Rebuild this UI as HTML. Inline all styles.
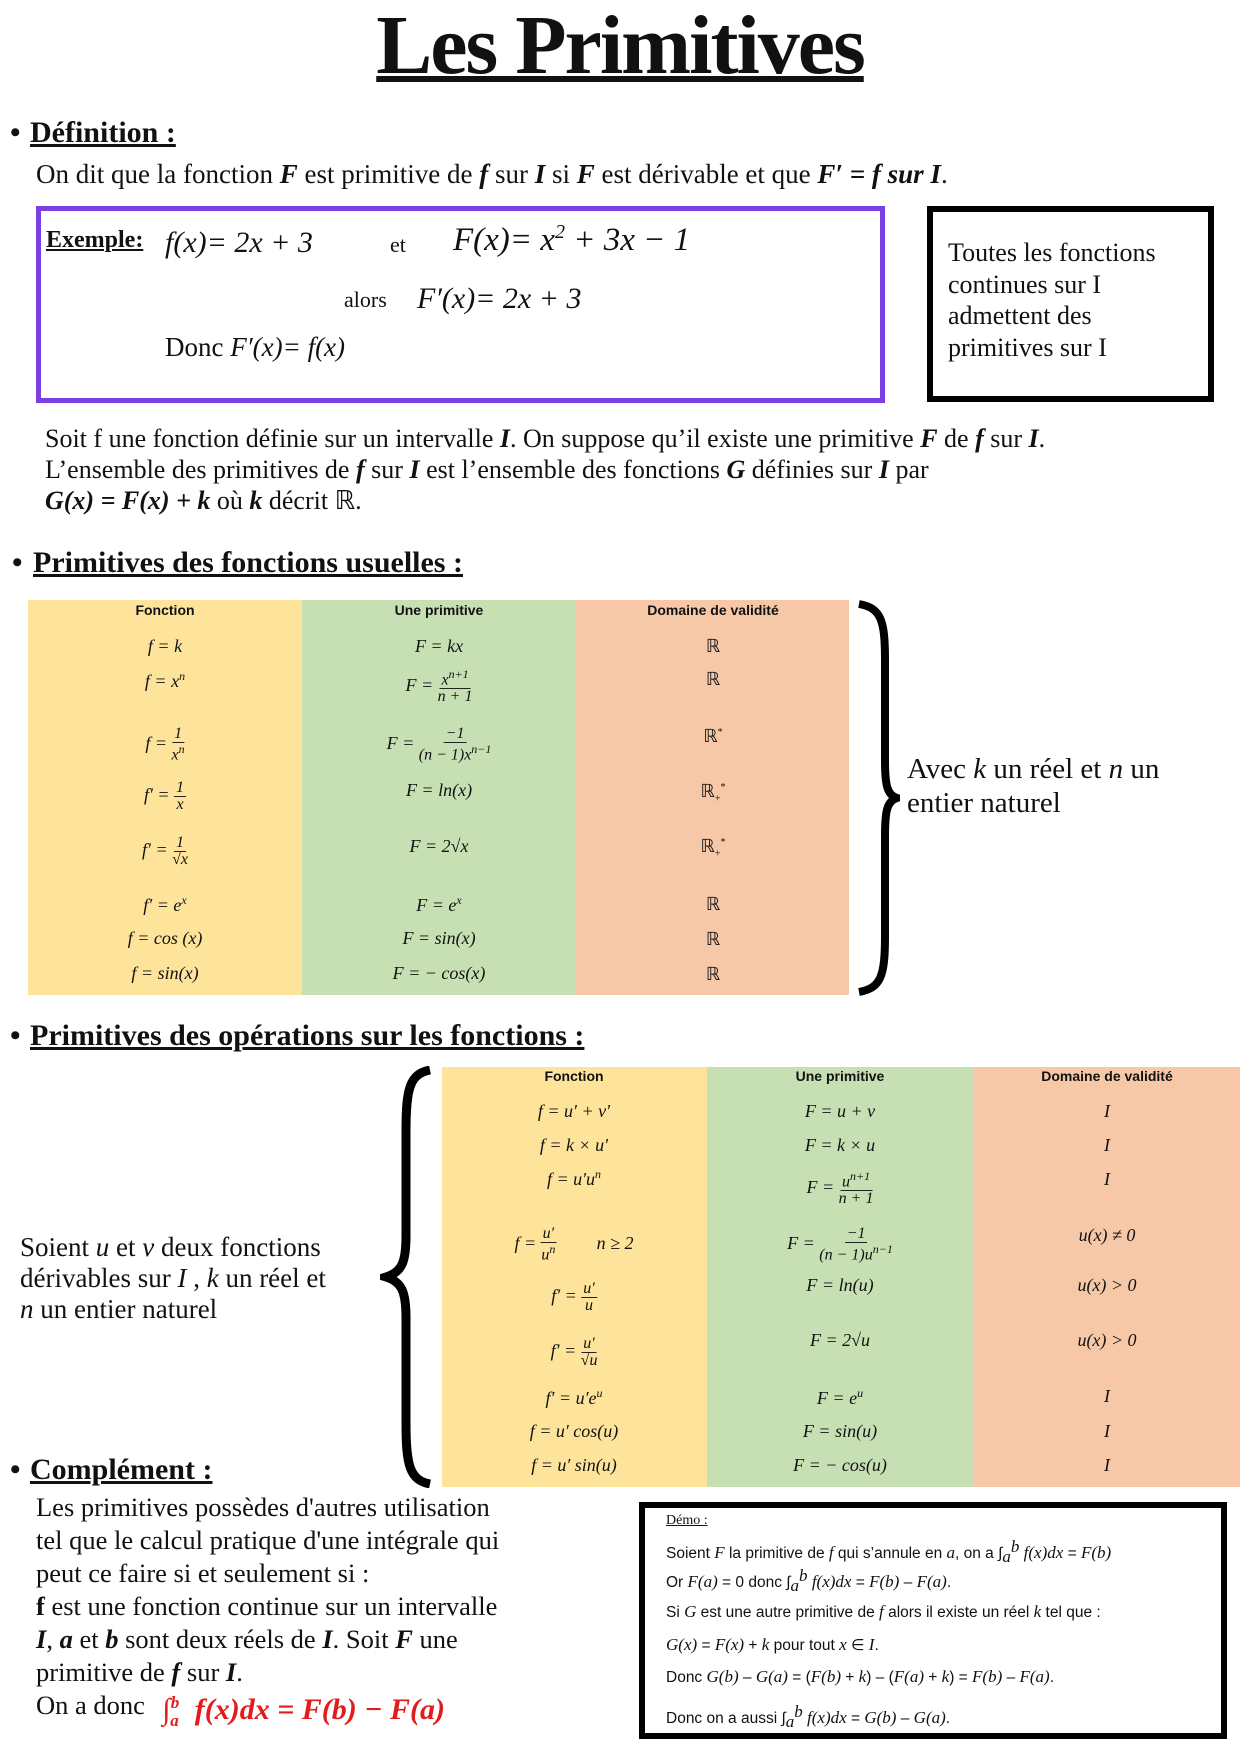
<!DOCTYPE html>
<html><head><meta charset="utf-8">
<style>
*{margin:0;padding:0;box-sizing:border-box}
body{width:1240px;height:1754px;position:relative;background:#fff;font-family:"Liberation Serif",serif;color:#111;overflow:hidden}
.t{position:absolute;white-space:nowrap;line-height:1}
.m{font-style:italic}
.h{font-weight:bold;text-decoration:underline;font-size:30px}
.box{position:absolute}
.c{position:absolute;text-align:center;white-space:nowrap;line-height:1;font-size:18px;transform:translateX(-50%)}
.fr{display:inline-flex;flex-direction:column;align-items:center;vertical-align:middle;font-size:16px}
.fr span:first-child{border-bottom:1px solid #222;padding:0 2px}
.th{font-family:"Liberation Sans",sans-serif;font-weight:bold;font-size:14px;font-style:normal}
.d{position:absolute;white-space:nowrap;font-family:"Liberation Sans",sans-serif;font-size:15.5px;line-height:1}
.d i{font-family:"Liberation Serif",serif;font-size:17px}
</style></head><body>

<div class="t" style="left:0;width:1240px;text-align:center;top:4px;font-size:84px;font-weight:bold;letter-spacing:-2px"><span style="text-decoration:underline;text-decoration-thickness:6px">Les Primitives</span></div>

<div class="t" style="left:10px;top:118px;font-size:30px;font-weight:bold">•</div>
<div class="t h" style="left:30px;top:118px">Définition :</div>
<div class="t" style="left:36px;top:161px;font-size:27px">On dit que la fonction <b><i>F</i></b> est primitive de <b><i>f</i></b> sur <b><i>I</i></b> si <b><i>F</i></b> est dérivable et que <b><i>F′ = f sur I</i></b>.</div>

<div class="box" style="left:36px;top:206px;width:849px;height:197px;border:5px solid #7b3fe4"></div>
<div class="t" style="left:46px;top:228px;font-size:24px;font-weight:bold;text-decoration:underline">Exemple:</div>
<div class="t m" style="left:165px;top:228px;font-size:30px">f(x)= 2x + 3</div>
<div class="t" style="left:390px;top:234px;font-size:22px">et</div>
<div class="t m" style="left:453px;top:222px;font-size:33px">F(x)= x<sup style="font-size:20px">2</sup> + 3x − 1</div>
<div class="t" style="left:344px;top:289px;font-size:22px">alors</div>
<div class="t m" style="left:417px;top:284px;font-size:30px">F′(x)= 2x + 3</div>
<div class="t" style="left:165px;top:334px;font-size:27px">Donc <i>F′(x)= f(x)</i></div>

<div class="box" style="left:927px;top:206px;width:287px;height:196px;border:6px solid #000"></div>
<div class="t" style="left:948px;top:237px;font-size:26px;line-height:31.5px;white-space:normal;width:235px">Toutes les fonctions continues sur I admettent des primitives sur I</div>

<div class="t" style="left:45px;top:423px;font-size:26px;line-height:31px">Soit f une fonction définie sur un intervalle <b><i>I</i></b>. On suppose qu’il existe une primitive <b><i>F</i></b> de <b><i>f</i></b> sur <b><i>I</i></b>.<br>L’ensemble des primitives de <b><i>f</i></b> sur <b><i>I</i></b> est l’ensemble des fonctions <b><i>G</i></b> définies sur <b><i>I</i></b> par<br><b><i>G(x) = F(x) + k</i></b> où <b><i>k</i></b> décrit ℝ.</div>

<div class="t" style="left:12px;top:548px;font-size:30px;font-weight:bold">•</div>
<div class="t h" style="left:33px;top:548px">Primitives des fonctions usuelles :</div>

<div class="box" style="left:28px;top:600px;width:274px;height:395px;background:#fee39b"></div>
<div class="box" style="left:302px;top:600px;width:274px;height:395px;background:#c6e0b4"></div>
<div class="box" style="left:576px;top:600px;width:273px;height:395px;background:#f6c8a8"></div>

<div class="c th" style="left:165px;top:603px">Fonction</div>
<div class="c th" style="left:439px;top:603px">Une primitive</div>
<div class="c th" style="left:713px;top:603px">Domaine de validité</div>

<div class="c m" style="left:165px;top:637px">f = k</div>
<div class="c m" style="left:439px;top:637px">F = kx</div>
<div class="c" style="left:713px;top:637px">ℝ</div>

<div class="c m" style="left:165px;top:670px">f = x<sup style="font-size:12px">n</sup></div>
<div class="c m" style="left:439px;top:668px">F = <span class="fr"><span>x<sup style="font-size:12px">n+1</sup></span><span>n + 1</span></span></div>
<div class="c" style="left:713px;top:670px">ℝ</div>

<div class="c m" style="left:165px;top:726px">f = <span class="fr"><span>1</span><span>x<sup style="font-size:12px">n</sup></span></span></div>
<div class="c m" style="left:439px;top:726px">F = <span class="fr"><span>−1</span><span>(n − 1)x<sup style="font-size:12px">n−1</sup></span></span></div>
<div class="c" style="left:713px;top:727px">ℝ<sup style="font-size:10px">*</sup></div>

<div class="c m" style="left:165px;top:780px">f′ = <span class="fr"><span>1</span><span>x</span></span></div>
<div class="c m" style="left:439px;top:781px">F = ln(x)</div>
<div class="c" style="left:713px;top:782px">ℝ<sub style="font-size:10px">+</sub><sup style="font-size:10px">*</sup></div>

<div class="c m" style="left:165px;top:835px">f′ = <span class="fr"><span>1</span><span>√x</span></span></div>
<div class="c m" style="left:439px;top:837px">F = 2√x</div>
<div class="c" style="left:713px;top:837px">ℝ<sub style="font-size:10px">+</sub><sup style="font-size:10px">*</sup></div>

<div class="c m" style="left:165px;top:894px">f′ = e<sup style="font-size:12px">x</sup></div>
<div class="c m" style="left:439px;top:894px">F = e<sup style="font-size:12px">x</sup></div>
<div class="c" style="left:713px;top:895px">ℝ</div>
<div class="c m" style="left:165px;top:929px">f = cos (x)</div>
<div class="c m" style="left:439px;top:929px">F = sin(x)</div>
<div class="c" style="left:713px;top:930px">ℝ</div>
<div class="c m" style="left:165px;top:964px">f = sin(x)</div>
<div class="c m" style="left:439px;top:964px">F = − cos(x)</div>
<div class="c" style="left:713px;top:965px">ℝ</div>

<svg class="box" style="left:855px;top:600px" width="45" height="396" viewBox="0 0 45 396"><path d="M4 4 C26 8 30 20 30 60 L30 160 C30 185 32 195 42 198 C32 201 30 211 30 236 L30 336 C30 376 26 388 4 392" fill="none" stroke="#000" stroke-width="8"/></svg>
<div class="t" style="left:907px;top:752px;font-size:29px;line-height:34px">Avec <i>k</i> un réel et <i>n</i> un<br>entier naturel</div>

<div class="t" style="left:10px;top:1021px;font-size:30px;font-weight:bold">•</div>
<div class="t h" style="left:30px;top:1021px">Primitives des opérations sur les fonctions :</div>

<div class="box" style="left:442px;top:1067px;width:265px;height:420px;background:#fee39b"></div>
<div class="box" style="left:707px;top:1067px;width:267px;height:420px;background:#c6e0b4"></div>
<div class="box" style="left:974px;top:1067px;width:266px;height:420px;background:#f6c8a8"></div>

<div class="c th" style="left:574px;top:1069px">Fonction</div>
<div class="c th" style="left:840px;top:1069px">Une primitive</div>
<div class="c th" style="left:1107px;top:1069px">Domaine de validité</div>

<div class="c m" style="left:574px;top:1102px">f = u′ + v′</div>
<div class="c m" style="left:840px;top:1102px">F = u + v</div>
<div class="c m" style="left:1107px;top:1102px">I</div>
<div class="c m" style="left:574px;top:1136px">f = k × u′</div>
<div class="c m" style="left:840px;top:1136px">F = k × u</div>
<div class="c m" style="left:1107px;top:1136px">I</div>
<div class="c m" style="left:574px;top:1168px">f = u′u<sup style="font-size:12px">n</sup></div>
<div class="c m" style="left:840px;top:1170px">F = <span class="fr"><span>u<sup style="font-size:12px">n+1</sup></span><span>n + 1</span></span></div>
<div class="c m" style="left:1107px;top:1170px">I</div>
<div class="c m" style="left:574px;top:1226px">f = <span class="fr"><span>u′</span><span>u<sup style="font-size:12px">n</sup></span></span> &nbsp; &nbsp; &nbsp; &nbsp; n ≥ 2</div>
<div class="c m" style="left:840px;top:1226px">F = <span class="fr"><span>−1</span><span>(n − 1)u<sup style="font-size:12px">n−1</sup></span></span></div>
<div class="c m" style="left:1107px;top:1226px">u(x) ≠ 0</div>
<div class="c m" style="left:574px;top:1281px">f′ = <span class="fr"><span>u′</span><span>u</span></span></div>
<div class="c m" style="left:840px;top:1276px">F = ln(u)</div>
<div class="c m" style="left:1107px;top:1276px">u(x) &gt; 0</div>
<div class="c m" style="left:574px;top:1336px">f′ = <span class="fr"><span>u′</span><span>√u</span></span></div>
<div class="c m" style="left:840px;top:1331px">F = 2√u</div>
<div class="c m" style="left:1107px;top:1331px">u(x) &gt; 0</div>
<div class="c m" style="left:574px;top:1387px">f′ = u′e<sup style="font-size:12px">u</sup></div>
<div class="c m" style="left:840px;top:1387px">F = e<sup style="font-size:12px">u</sup></div>
<div class="c m" style="left:1107px;top:1387px">I</div>
<div class="c m" style="left:574px;top:1422px">f = u′ cos(u)</div>
<div class="c m" style="left:840px;top:1422px">F = sin(u)</div>
<div class="c m" style="left:1107px;top:1422px">I</div>
<div class="c m" style="left:574px;top:1456px">f = u′ sin(u)</div>
<div class="c m" style="left:840px;top:1456px">F = − cos(u)</div>
<div class="c m" style="left:1107px;top:1456px">I</div>

<svg class="box" style="left:380px;top:1066px" width="55" height="422" viewBox="0 0 55 422"><path d="M50 4 C30 8 26 22 26 64 L26 170 C26 196 22 206 6 211 C22 216 26 226 26 252 L26 358 C26 400 30 414 50 418" fill="none" stroke="#000" stroke-width="9"/></svg>

<div class="t" style="left:20px;top:1232px;font-size:27px;line-height:31px">Soient <i>u</i> et <i>v</i> deux fonctions<br>dérivables sur <i>I</i> , <i>k</i> un réel et<br><i>n</i> un entier naturel</div>

<div class="t" style="left:10px;top:1455px;font-size:30px;font-weight:bold">•</div>
<div class="t h" style="left:30px;top:1455px">Complément :</div>
<div class="t" style="left:36px;top:1491px;font-size:26.5px;line-height:33px">Les primitives possèdes d'autres utilisation<br>tel que le calcul pratique d'une intégrale qui<br>peut ce faire si et seulement si :<br><b>f</b> est une fonction continue sur un intervalle<br><b><i>I</i></b>, <b><i>a</i></b> et <b><i>b</i></b> sont deux réels de <b><i>I</i></b>. Soit <b><i>F</i></b> une<br>primitive de <b><i>f</i></b> sur <b><i>I</i></b>.<br>On a donc</div>
<div class="t" style="left:162px;top:1694px;font-size:30px;color:#e21b1b;font-weight:bold;font-style:italic">∫<sub style="font-size:17px">a</sub><sup style="font-size:17px;position:relative;left:-8px">b</sup> f(x)dx = F(b) − F(a)</div>

<div class="box" style="left:639px;top:1502px;width:588px;height:237px;border:6px solid #000"></div>
<div class="d" style="left:666px;top:1514px;font-family:'Liberation Serif',serif;font-size:14px;text-decoration:underline">Démo :</div>
<div class="d" style="left:666px;top:1538px">Soient <i>F</i> la primitive de <i>f</i> qui s’annule en <i>a</i>, on a ∫<sub style="font-size:10px"><i>a</i></sub><sup style="font-size:10px"><i>b</i></sup> <i>f(x)dx</i> = <i>F(b)</i></div>
<div class="d" style="left:666px;top:1567px">Or <i>F(a)</i> = 0 donc ∫<sub style="font-size:10px"><i>a</i></sub><sup style="font-size:10px"><i>b</i></sup> <i>f(x)dx</i> = <i>F(b)</i> – <i>F(a)</i>.</div>
<div class="d" style="left:666px;top:1603px">Si <i>G</i> est une autre primitive de <i>f</i> alors il existe un réel <i>k</i> tel que :</div>
<div class="d" style="left:666px;top:1636px"><i>G(x)</i> = <i>F(x)</i> + <i>k</i> pour tout <i>x</i> ∈ <i>I</i>.</div>
<div class="d" style="left:666px;top:1668px">Donc <i>G(b)</i> – <i>G(a)</i> = (<i>F(b)</i> + <i>k</i>) – (<i>F(a)</i> + <i>k</i>) = <i>F(b)</i> – <i>F(a)</i>.</div>
<div class="d" style="left:666px;top:1703px">Donc on a aussi ∫<sub style="font-size:10px"><i>a</i></sub><sup style="font-size:10px"><i>b</i></sup> <i>f(x)dx</i> = <i>G(b)</i> – <i>G(a)</i>.</div>

</body></html>
